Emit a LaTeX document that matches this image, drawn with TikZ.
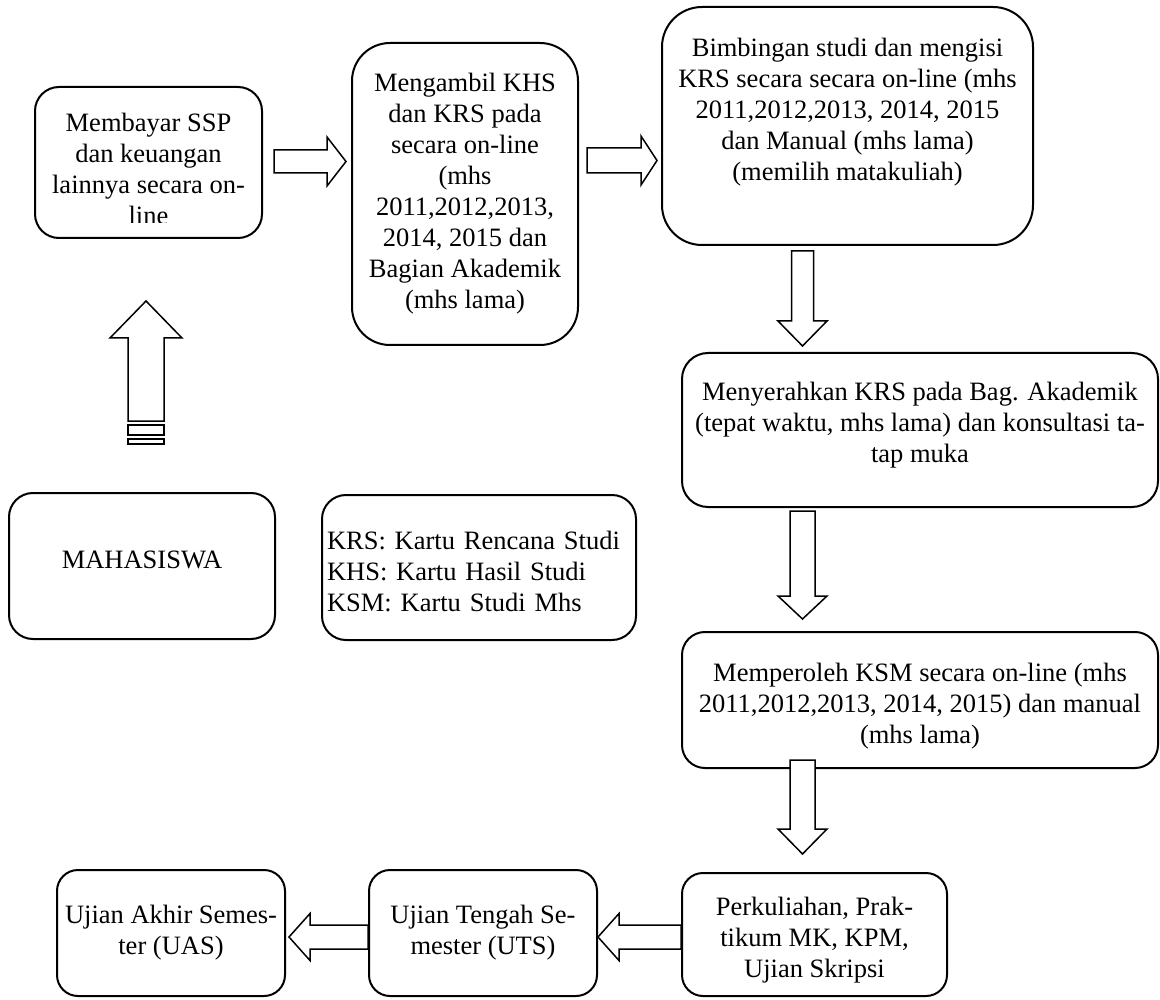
\documentclass[tikz,border=0pt]{standalone}
\usepackage{fontspec}
\setmainfont{Liberation Serif}
\usetikzlibrary{calc}
\tikzset{
  box/.style={draw, line width=2pt, rounded corners=24pt, align=center, inner sep=0pt,
    font=\fontsize{26.5}{31}\selectfont},
  blk/.style n args={3}{draw, fill=white, line width=1.5pt, to path={
      let \p1=(\tikztostart), \p2=(\tikztotarget),
          \n1={atan2(\y2-\y1,\x2-\x1)} in
      ($(\p1)+({\n1+90}:#1)$)
      -- ($(\p2)+({\n1+180}:#3)+({\n1+90}:#1)$)
      -- ($(\p2)+({\n1+180}:#3)+({\n1+90}:#2)$)
      -- (\p2)
      -- ($(\p2)+({\n1+180}:#3)+({\n1-90}:#2)$)
      -- ($(\p2)+({\n1+180}:#3)+({\n1-90}:#1)$)
      -- ($(\p1)+({\n1-90}:#1)$) -- cycle}},
}

\begin{document}
\begin{tikzpicture}[x=1pt, y=-1pt]
  \useasboundingbox (0,0) rectangle (1160,1000);
  \node[box, minimum width=227pt, minimum height=151pt] (bayar) at (148.5,162.5) {};
  \begin{scope}
    \clip (bayar.north west) rectangle ($(bayar.south east)+(0,-16)$);
    \node[box, draw=none] (bayartxt) at ($(bayar.center)+(0,6)$)
      {Membayar SSP\\dan keuangan\\lainnya secara on-\\line};
  \end{scope}
  \node[box, minimum width=226pt, minimum height=302pt, rounded corners=38pt] (ambil) at (465,194)
    {Mengambil KHS\\dan KRS pada\\secara on-line\\(mhs\\2011,2012,2013,\\2014, 2015 dan\\Bagian Akademik\\(mhs lama)};
  \node[box, minimum width=371pt, minimum height=238pt, rounded corners=40pt] (bimbing) at (847.5,126)
    {Bimbingan studi dan mengisi\\KRS secara secara on-line (mhs\\2011,2012,2013, 2014, 2015\\dan Manual (mhs lama)\\(memilih matakuliah)\\[3pt]\mbox{}};
  \node[box, minimum width=476pt, minimum height=154pt, rounded corners=26pt] (serah) at (920,430)
    {Menyerahkan KRS pada Bag. Akademik\\(tepat waktu, mhs lama) dan konsultasi ta-\\tap muka\\[-15pt]\mbox{}};
  \node[box, minimum width=476pt, minimum height=136pt, rounded corners=23pt] (peroleh) at (920,700)
    {\mbox{}\\Memperoleh KSM secara on-line (mhs\\2011,2012,2013, 2014, 2015) dan manual\\(mhs lama)};
  \node[box, minimum width=265pt, minimum height=123pt, rounded corners=21pt] (kuliah) at (814.5,934.5)
    {\mbox{}\\[-1pt]Perkuliahan, Prak-\\tikum MK, KPM,\\Ujian Skripsi};
  \node[box, minimum width=228pt, minimum height=126pt, rounded corners=21pt] (uts) at (483,933)
    {Ujian Tengah Se-\\mester (UTS)};
  \node[box, minimum width=228pt, minimum height=126pt, rounded corners=21pt] (uas) at (171,933)
    {Ujian Akhir Semes-\\ter (UAS)};
  \node[box, minimum width=266pt, minimum height=146pt] (mhs) at (142,566) {MAHASISWA\\[-19pt]\mbox{}};
  \node[box, minimum height=145pt, text width=304pt, inner xsep=5pt, align=left] (singkatan) at (479,567.5)
    {\mbox{}\\[-5.5pt]KRS: Kartu Rencana Studi\\KHS: Kartu Hasil Studi\\KSM: Kartu Studi Mhs};

  \coordinate (kolom) at (802.5,0);
  \coordinate (baris) at (0,937);
  \coordinate (pangkal) at ($(mhs.north)+(4,-71)$);
  \draw[blk={11.5pt}{24.5pt}{19pt}] ($(bayar.east)+(11,-1)$) to ($(bayar.east -| ambil.west)+(-5,-1)$);
  \draw[blk={12.5pt}{24.5pt}{16pt}] ($(ambil.east)+(8,-33.5)$) to ($(ambil.east -| bimbing.west)+(-4,-33.5)$);
  \draw[blk={11pt}{24.5pt}{25pt}] ($(kolom |- bimbing.south)+(0,5)$) to ($(kolom |- serah.north)+(0,-6)$);
  \draw[blk={12.5pt}{24.5pt}{23pt}] ($(kolom |- serah.south)+(0,3)$) to ($(kolom |- peroleh.north)+(0,-12)$);
  \draw[blk={12.5pt}{24.5pt}{25pt}] ($(kolom |- peroleh.south)+(0,-9)$) to ($(kolom |- kuliah.north)+(0,-18)$);
  \draw[blk={12pt}{23.5pt}{21pt}] (baris -| kuliah.west) to (baris -| uts.east);
  \draw[blk={12pt}{23.5pt}{21pt}] (baris -| uts.west) to ($(baris -| uas.east)+(3,0)$);
  \draw[blk={18pt}{36pt}{37pt}] (pangkal) to ($(bayar.south)+(-2.5,62)$);
  \draw[line width=1.5pt] ($(pangkal)+(-18,4)$) rectangle ($(pangkal)+(18,14)$);
  \draw[line width=1.5pt] ($(pangkal)+(-18,18)$) rectangle ($(pangkal)+(18,23)$);
\end{tikzpicture}
\end{document}
